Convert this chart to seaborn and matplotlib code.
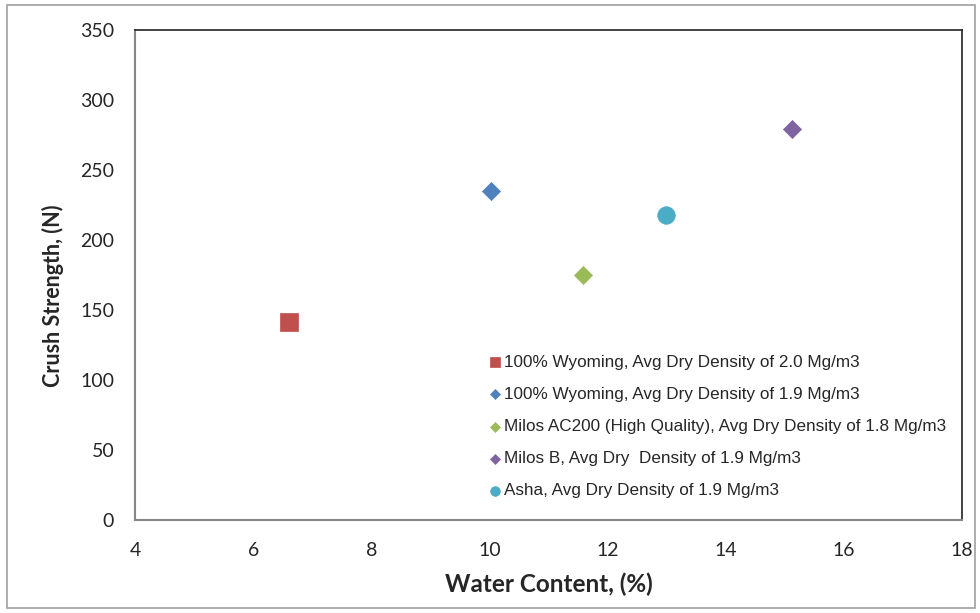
import matplotlib
matplotlib.use("Agg")
import matplotlib.pyplot as plt
import seaborn as sns
import pandas as pd
from matplotlib.patches import Rectangle

# Data
series = [
    "100% Wyoming, Avg Dry Density of 2.0 Mg/m3",
    "100% Wyoming, Avg Dry Density of 1.9 Mg/m3",
    "Milos AC200 (High Quality), Avg Dry Density of 1.8 Mg/m3",
    "Milos B, Avg Dry  Density of 1.9 Mg/m3",
    "Asha, Avg Dry Density of 1.9 Mg/m3",
]
water_content = [6.61, 10.02, 11.58, 15.12, 12.99]
crush_strength = [141.5, 234.8, 175.0, 279.0, 218.0]

colors = ["#C0504D", "#4F81BD", "#9BBB59", "#8064A2", "#4BACC6"]
markers = ["s", "D", "D", "D", "o"]

df = pd.DataFrame({"series": series, "water": water_content, "crush": crush_strength})

sns.set_style("white")
plt.rcParams["font.family"] = ["Lato", "DejaVu Sans"]

fig = plt.figure(figsize=(9.8, 6.13), dpi=100)
ax = fig.add_axes([0.1378, 0.1517, 0.8438, 0.7993])

sizes = {"s": 150, "D": 85, "o": 160}
for name, col, mk in zip(series, colors, markers):
    sub = df[df["series"] == name]
    sns.scatterplot(data=sub, x="water", y="crush", ax=ax, color=col, marker=mk,
                    s=sizes[mk], edgecolor=col, linewidth=0.5, label=name)

ax.set_xlim(4, 18)
ax.set_ylim(0, 350)
ax.set_xticks(range(4, 19, 2))
ax.set_yticks(range(0, 351, 50))
ax.tick_params(axis="both", direction="in", length=6, width=1.2, color="#868686",
               labelsize=14)
ax.tick_params(axis="y", pad=15)
ax.tick_params(axis="x", pad=16)

for side in ["left", "bottom"]:
    ax.spines[side].set_color("#868686")
    ax.spines[side].set_linewidth(1.5)
for side in ["top", "right"]:
    ax.spines[side].set_color("#222222")
    ax.spines[side].set_linewidth(1.2)

ax.set_xlabel("Water Content, (%)", fontsize=17.5, fontweight="bold")
ax.set_ylabel("Crush Strength, (N)", fontsize=15.5, fontweight="bold")
ax.xaxis.set_label_coords(0.5, -0.108)
ax.yaxis.set_label_coords(-0.0855, 0.457)

leg = ax.legend(loc="upper left", bbox_to_anchor=(0.4164, 0.351), frameon=False,
                markerscale=0.55, handletextpad=0.05, labelspacing=1.0,
                borderaxespad=0, handlelength=1.0,
                prop={"family": "Liberation Sans", "size": 12.3})

fig.patches.append(Rectangle((7 / 980, 5 / 613), 968 / 980, 603 / 613,
                             transform=fig.transFigure, fill=False,
                             edgecolor="#A0A0A0", linewidth=1.2))

fig.savefig("out.png", dpi=100)
